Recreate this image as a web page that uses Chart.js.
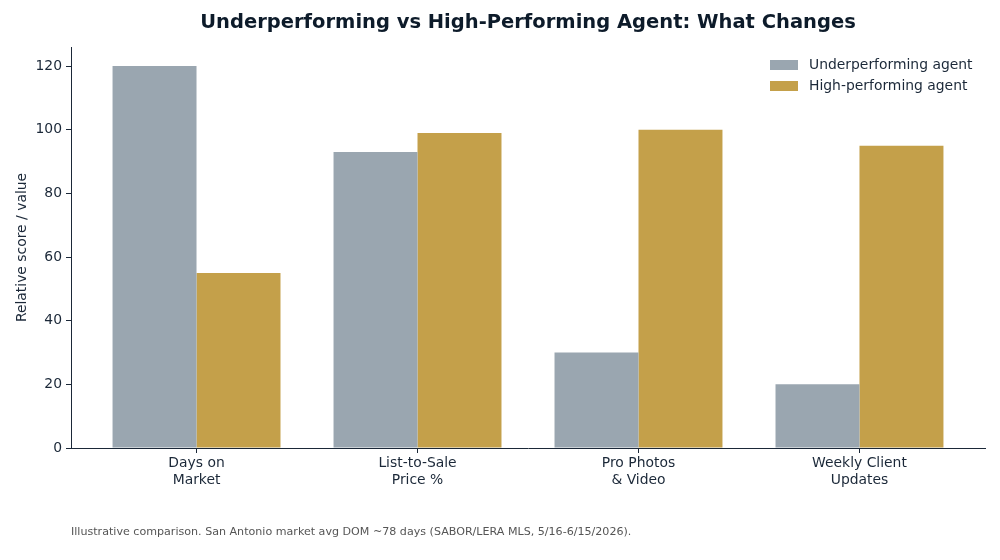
<!DOCTYPE html>
<html>
<head>
<meta charset="utf-8">
<script src="https://cdn.jsdelivr.net/npm/chart.js@4.4.1/dist/chart.umd.min.js"></script>
<style>
  html, body { margin: 0; padding: 0; background: #fff; }
  #wrap { width: 1000px; height: 560px; position: relative; }
</style>
</head>
<body>
<div id="wrap"><canvas id="chart" width="1000" height="560"></canvas></div>
<script>
const categories = [["Days on", "Market"], ["List-to-Sale", "Price %"], ["Pro Photos", "& Video"], ["Weekly Client", "Updates"]];
const underValues = [120, 93, 30, 20];
const highValues = [55, 99, 100, 95];
const yTicks = [0, 20, 40, 60, 80, 100, 120];
const seriesNames = ["Underperforming agent", "High-performing agent"];
const titleText = "Underperforming vs High-Performing Agent: What Changes";
const footnote = "Illustrative comparison. San Antonio market avg DOM ~78 days (SABOR/LERA MLS, 5/16-6/15/2026).";

const ink = "#1b2838";
const font = "'DejaVu Sans', sans-serif";

const extras = {
  id: "extras",
  afterDraw(chart) {
    const ctx = chart.ctx;
    const area = chart.chartArea;
    ctx.save();
    // title
    ctx.fillStyle = "#0d1b2a";
    ctx.font = "bold 19.5px " + font;
    ctx.textAlign = "center";
    ctx.textBaseline = "middle";
    ctx.fillText(titleText, (area.left + area.right) / 2, 23);

    // legend
    ctx.font = "13.9px " + font;
    ctx.textAlign = "left";
    chart.data.datasets.forEach((ds, i) => {
      const y = 65 + i * 21;
      ctx.fillStyle = ds.backgroundColor;
      ctx.fillRect(770, y - 5, 28, 10);
      ctx.fillStyle = ink;
      ctx.fillText(ds.label, 809, y);
    });

    // footnote
    ctx.font = "11.1px " + font;
    ctx.fillStyle = "#555555";
    ctx.fillText(footnote, area.left, 532);
    ctx.restore();
  }
};

new Chart(document.getElementById("chart"), {
  type: "bar",
  data: {
    datasets: [
      {
        label: seriesNames[0],
        data: underValues.map((v, i) => ({ x: i, y: v })),
        backgroundColor: "#9aa6b0",
        borderWidth: 0,
        categoryPercentage: 0.76,
        barPercentage: 1.0,
      },
      {
        label: seriesNames[1],
        data: highValues.map((v, i) => ({ x: i, y: v })),
        backgroundColor: "#c4a04a",
        borderWidth: 0,
        categoryPercentage: 0.76,
        barPercentage: 1.0,
      },
    ],
  },
  options: {
    responsive: false,
    animation: false,
    layout: { padding: { left: 0, right: 15, top: 47, bottom: 0 } },
    plugins: {
      legend: { display: false },
      title: { display: false },
      tooltip: { enabled: false },
    },
    scales: {
      x: {
        type: "linear",
        min: -0.568,
        max: 3.568,
        offset: false,
        afterBuildTicks: (scale) => {
          scale.ticks = categories.map((c, i) => ({ value: i }));
        },
        afterFit: (scale) => { scale.height = 112; },
        ticks: {
          callback: (v) => categories[v],
          color: ink,
          font: { family: font, size: 13.9 },
          padding: 2,
          maxRotation: 0,
          autoSkip: false,
        },
        grid: { offset: false, drawOnChartArea: false, drawTicks: true, tickLength: 5, color: ink },
        border: { color: ink, width: 1 },
      },
      y: {
        min: 0,
        max: 126,
        afterBuildTicks: (scale) => {
          scale.ticks = yTicks.map((v) => ({ value: v }));
        },
        afterFit: (scale) => { scale.width = 71; },
        ticks: {
          color: ink,
          font: { family: font, size: 13.9 },
          padding: 4,
        },
        grid: { drawOnChartArea: false, drawTicks: true, tickLength: 5, color: ink },
        border: { color: ink, width: 1 },
        title: {
          display: true,
          text: "Relative score / value",
          color: ink,
          font: { family: font, size: 13.9 },
          padding: { top: 14, bottom: 0 },
        },
      },
    },
  },
  plugins: [extras],
});
</script>
</body>
</html>
